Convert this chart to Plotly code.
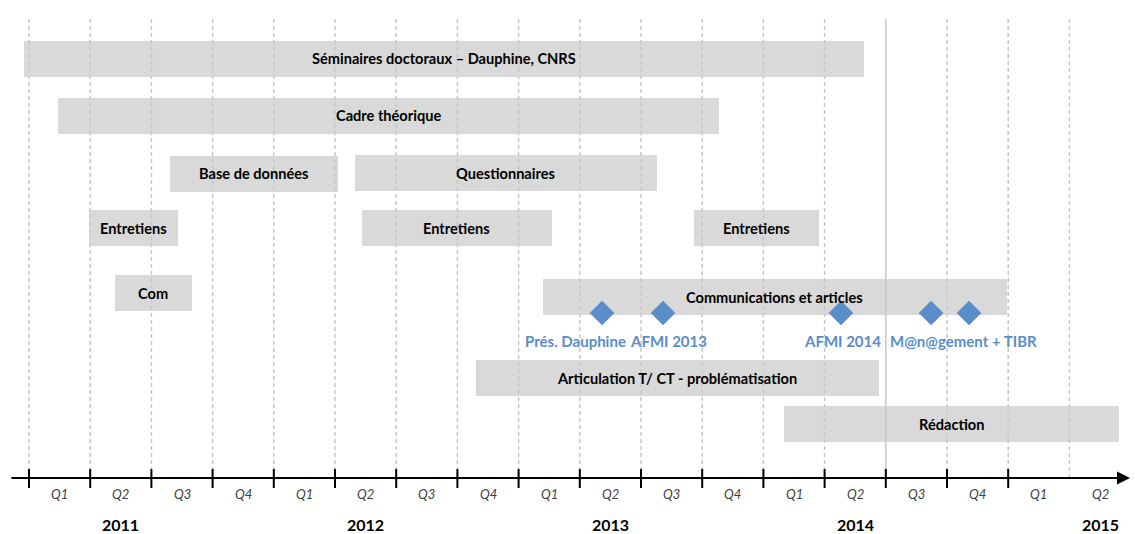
import plotly.graph_objects as go

# ---------------- data ----------------
tasks = ["Séminaires doctoraux – Dauphine, CNRS", "Cadre théorique", "Base de données",
         "Questionnaires", "Entretiens", "Entretiens", "Entretiens", "Com",
         "Communications et articles", "Articulation T/ CT - problématisation", "Rédaction"]
task_start = [2010.980, 2011.120, 2011.576, 2012.332, 2011.246, 2012.360, 2013.717,
              2011.351, 2013.098, 2012.826, 2014.084]
task_end = [2014.411, 2013.819, 2012.261, 2013.564, 2011.607, 2013.135, 2014.227,
            2011.666, 2014.995, 2014.472, 2015.453]
# vertical layout position (row centre) of each bar
task_row = [58.5, 115.5, 173.5, 173, 228, 228, 228, 293, 297, 378, 424]

milestone_dates = [2013.341, 2013.590, 2014.317, 2014.685, 2014.840]
milestone_row = 313
milestone_labels = ["Prés. Dauphine", "AFMI 2013", "AFMI 2014", "M@n@gement + TIBR"]
milestone_label_x = [2013.2325, 2013.613, 2014.323, 2014.817]
milestone_label_row = 341

quarter_bounds = [2011 + i * 0.25 for i in range(18)]   # Q1 2011 ... Q2 2015 starts
quarter_labels = ["Q1", "Q2", "Q3", "Q4"] * 4 + ["Q1", "Q2"]
years = ["2011", "2012", "2013", "2014", "2015"]
year_label_x = [2011.375, 2012.375, 2013.375, 2014.375, 2015.375]
solid_bound = 2014.5

# ---------------- layout constants ----------------
W, H = 1135, 534
AXIS_Y = 478
GRID_TOP = 19
FONT = "Lato, Carlito, Calibri, sans-serif"
BAR_COLOR = "#d9d9d9"
BLUE = "#5b8dc8"

fig = go.Figure()

durations = [e - s for s, e in zip(task_start, task_end)]
fig.add_trace(go.Bar(
    orientation="h", base=task_start, x=durations, y=task_row,
    width=[36] * len(tasks), marker=dict(color=BAR_COLOR, line=dict(width=0)),
    hoverinfo="skip", showlegend=False,
))

fig.add_trace(go.Scatter(
    x=milestone_dates, y=[milestone_row] * len(milestone_dates), mode="markers",
    marker=dict(symbol="diamond", size=19, color=BLUE, line=dict(width=0)),
    hoverinfo="skip", showlegend=False,
))

shapes = []
for qb in quarter_bounds:
    shapes.append(dict(
        type="line", xref="x", yref="y", x0=qb, x1=qb, y0=GRID_TOP, y1=AXIS_Y,
        line=dict(color="#c8c8c8", width=1.5,
                  dash="solid" if abs(qb - solid_bound) < 1e-9 else "4px,3px"),
        layer="above",
    ))
for qb in quarter_bounds[:-1]:
    shapes.append(dict(
        type="line", xref="x", yref="y", x0=qb, x1=qb, y0=AXIS_Y - 9, y1=AXIS_Y + 10,
        line=dict(color="black", width=2), layer="above",
    ))

annotations = []
# axis arrow
annotations.append(dict(
    x=2015.4976, y=AXIS_Y, ax=2010.922, ay=AXIS_Y, xref="x", yref="y",
    axref="x", ayref="y", text="", showarrow=True, arrowhead=2, arrowsize=1.3,
    arrowwidth=2, arrowcolor="black", standoff=0, startstandoff=0,
))
# bar labels
for name, s, e, r in zip(tasks, task_start, task_end, task_row):
    annotations.append(dict(
        x=(s + e) / 2, y=r, xref="x", yref="y", text="<b>%s</b>" % name,
        showarrow=False, font=dict(family=FONT, size=14.6, color="black"),
    ))
# milestone labels
for lab, lx in zip(milestone_labels, milestone_label_x):
    annotations.append(dict(
        x=lx, y=milestone_label_row, xref="x", yref="y", text="<b>%s</b>" % lab,
        showarrow=False, font=dict(family=FONT, size=15, color=BLUE),
    ))
# quarter labels
for qb, ql in zip(quarter_bounds, quarter_labels):
    annotations.append(dict(
        x=qb + 0.125, y=494, xref="x", yref="y", text="<i>%s</i>" % ql,
        showarrow=False, font=dict(family=FONT, size=13, color="#404040"),
    ))
# year labels
for yl, yx in zip(years, year_label_x):
    annotations.append(dict(
        x=yx, y=524, xref="x", yref="y", text="<b>%s</b>" % yl,
        showarrow=False, font=dict(family=FONT, size=16, color="black"),
    ))

fig.update_layout(
    width=W, height=H, margin=dict(l=0, r=0, t=0, b=0),
    paper_bgcolor="white", plot_bgcolor="white",
    xaxis=dict(range=[2011 - 29 / 244.8, 2011 + (W - 29) / 244.8], visible=False,
               fixedrange=True),
    yaxis=dict(range=[H, 0], visible=False, fixedrange=True),
    shapes=shapes, annotations=annotations, bargap=0, showlegend=False,
)

fig.write_html(
    "out.html",
    config={"displayModeBar": False},
    post_script="document.body.style.margin='0';document.body.style.overflow='hidden';",
)
